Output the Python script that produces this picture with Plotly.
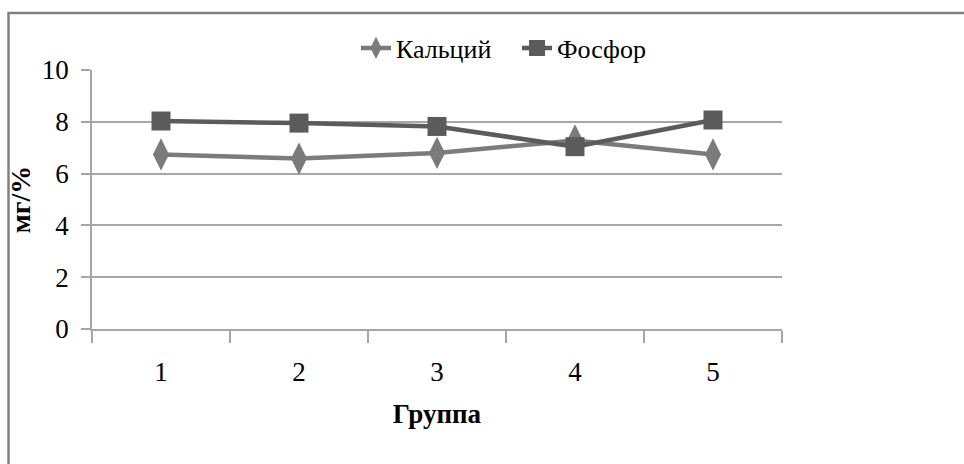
import plotly.graph_objects as go

groups = ["1", "2", "3", "4", "5"]
calcium = [6.74, 6.58, 6.8, 7.28, 6.74]
phosphorus = [8.03, 7.95, 7.82, 7.04, 8.07]
y_ticks = [0, 2, 4, 6, 8, 10]

FONT = "Liberation Serif"
W, H = 964, 464
L, R, T, B = 92, 182, 70, 135
pw, ph = W - L - R, H - T - B

def px_x(x):
    return (x - L) / pw

def px_y(y):
    return (H - B - y) / ph

fig = go.Figure()
fig.add_trace(go.Scatter(
    x=groups, y=calcium, name="Кальций", mode="lines+markers",
    line=dict(color="#7b7b7b", width=4.5),
    marker=dict(symbol="diamond-tall", size=23, color="#7b7b7b"),
))
fig.add_trace(go.Scatter(
    x=groups, y=phosphorus, name="Фосфор", mode="lines+markers",
    line=dict(color="#5b5b5b", width=4.5),
    marker=dict(symbol="square", size=19, color="#5b5b5b"),
))

fig.update_layout(
    width=W, height=H,
    margin=dict(l=L, r=R, t=T, b=B),
    paper_bgcolor="white", plot_bgcolor="white",
    font=dict(family=FONT, color="black", size=26),
    showlegend=True,
    legend=dict(orientation="h", x=px_x(356), xanchor="left",
                y=px_y(48), yanchor="middle",
                font=dict(family=FONT, size=26, color="black"),
                bgcolor="rgba(0,0,0,0)", itemwidth=30,
                entrywidth=116, entrywidthmode="pixels"),
    xaxis=dict(
        type="category", range=[-0.5, 4.5], tickson="boundaries",
        ticks="outside", ticklen=12, tickcolor="#a6a6a6", tickwidth=1.5,
        showline=True, linecolor="#a6a6a6", linewidth=1.5,
        showgrid=False, zeroline=False,
        tickfont=dict(family=FONT, size=27),
        ticklabelstandoff=18,
        title=dict(text="<b>Группа</b>", font=dict(family=FONT, size=27), standoff=18),
    ),
    yaxis=dict(
        range=[0, 10], tickvals=y_ticks,
        ticks="outside", ticklen=9, tickcolor="#a6a6a6", tickwidth=1.5,
        showline=True, linecolor="#a6a6a6", linewidth=1.5,
        showgrid=True, gridcolor="#a6a6a6", gridwidth=1.5,
        zeroline=False,
        tickfont=dict(family=FONT, size=27),
        ticklabelstandoff=7,
        title=dict(text="<b>мг/%</b>", font=dict(family=FONT, size=28), standoff=3),
    ),
    shapes=[
        dict(type="line", xref="paper", yref="paper",
             x0=px_x(8.5), x1=px_x(8.5), y0=px_y(13), y1=px_y(470),
             line=dict(color="#808080", width=2.5)),
        dict(type="line", xref="paper", yref="paper",
             x0=px_x(7.5), x1=px_x(970), y0=px_y(13), y1=px_y(13),
             line=dict(color="#808080", width=2.5)),
    ],
)

fig.write_html("out.html", config={"displayModeBar": False},
               post_script="document.body.style.margin='0';")
